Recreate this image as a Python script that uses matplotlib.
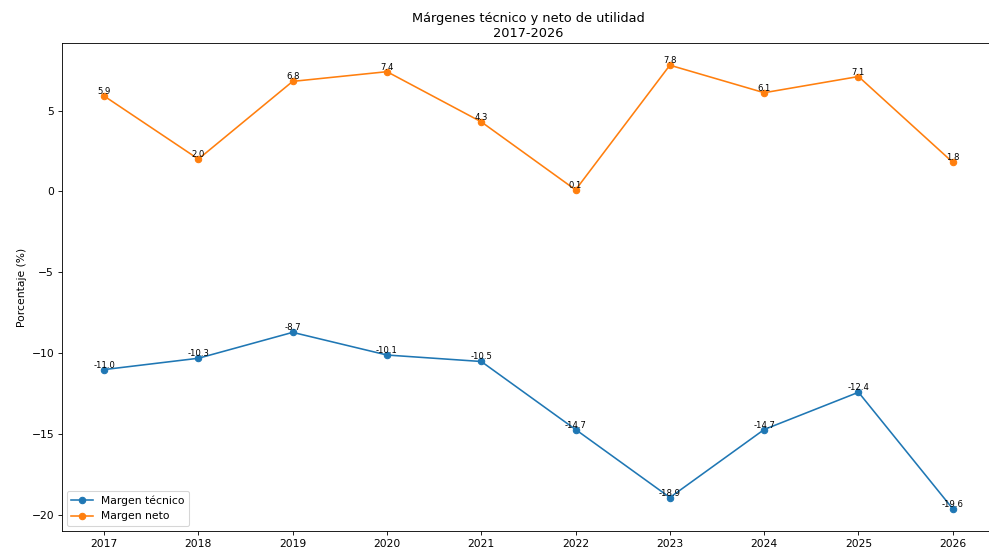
import matplotlib
matplotlib.use('Agg')
from matplotlib import pyplot as plt

plt.close('all')

years = [2017, 2018, 2019, 2020, 2021, 2022, 2023, 2024, 2025, 2026]
margen_tecnico = [-11.0, -10.3, -8.7, -10.1, -10.5, -14.7, -18.9, -14.7, -12.4, -19.6]
margen_neto = [5.9, 2.0, 6.8, 7.4, 4.3, 0.1, 7.8, 6.1, 7.1, 1.8]

fig = plt.figure(figsize=(989/77, 555/77), dpi=77)
ax = fig.add_axes([0.0623, 0.0432, 0.944, 0.8793])

ax.plot(years, margen_tecnico, marker='o', label='Margen técnico')
ax.plot(years, margen_neto, marker='o', label='Margen neto')

# etiquetas de valor sobre cada punto
for x, y in zip(years, margen_tecnico):
    ax.text(x, y, f'{y:.1f}', ha='center', va='bottom', fontsize=8)
for x, y in zip(years, margen_neto):
    ax.text(x, y, f'{y:.1f}', ha='center', va='bottom', fontsize=8)

ax.set_xticks(years)
ax.set_ylabel('Porcentaje (%)')
ax.set_title('Márgenes técnico y neto de utilidad\n2017-2026')
ax.legend(loc='lower left')
# el borde derecho queda fuera del recorte en la referencia
ax.spines['right'].set_visible(False)

fig.savefig('out.png', dpi=77)
